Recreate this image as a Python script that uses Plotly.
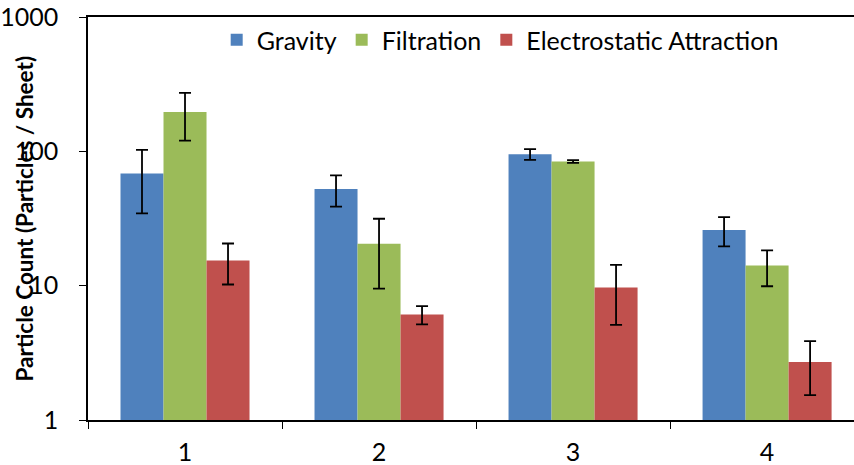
import plotly.graph_objects as go

# Sample groups on the x axis
groups = ["1", "2", "3", "4"]

# Mean particle counts per collection method
gravity = [68.5, 52.5, 95.0, 26.0]
filtration = [196.0, 20.5, 84.0, 14.1]
electrostatic = [15.4, 6.1, 9.7, 2.7]

# Symmetric error (± particles / sheet)
gravity_err = [34.0, 13.8, 8.7, 6.4]
filtration_err = [76.0, 11.0, 2.0, 4.2]
electrostatic_err = [5.2, 0.95, 4.6, 1.17]

series = [
    ("Gravity", gravity, gravity_err, "#4F81BD"),
    ("Filtration", filtration, filtration_err, "#9BBB59"),
    ("Electrostatic Attraction", electrostatic, electrostatic_err, "#C0504D"),
]

FONT = "Lato"
SIZE = 25

fig = go.Figure()
for name, vals, errs, color in series:
    fig.add_trace(go.Bar(
        name=name,
        x=groups,
        y=vals,
        marker=dict(color=color, line=dict(width=0)),
        error_y=dict(type="data", array=errs, visible=True,
                     color="black", thickness=1.8, width=6),
    ))

fig.update_layout(
    width=854,
    height=465,
    margin=dict(l=88, r=0, t=17, b=45),
    paper_bgcolor="white",
    plot_bgcolor="white",
    barmode="group",
    bargap=0.335,
    bargroupgap=0,
    font=dict(family=FONT, size=SIZE, color="black"),
    showlegend=True,
    legend=dict(
        orientation="h",
        x=0.168, xanchor="left",
        y=1.0, yanchor="top",
        bgcolor="rgba(0,0,0,0)",
        font=dict(family=FONT, size=SIZE, color="black"),
        itemwidth=30,
        tracegroupgap=0,
    ),
    xaxis=dict(
        type="category",
        range=[-0.5, 3.448],
        automargin=False,
        showline=True, linecolor="black", linewidth=1.5, mirror=True,
        ticks="outside", ticklen=7, tickwidth=1.3, tickcolor="black",
        tickson="boundaries",
        ticklabelstandoff=9,
        showgrid=False, zeroline=False,
        tickfont=dict(family=FONT, size=SIZE, color="black"),
    ),
    yaxis=dict(
        type="log",
        range=[0, 3],
        automargin=False,
        tickvals=[1, 10, 100, 1000],
        ticktext=["1", "10", "100", "1000"],
        showline=True, linecolor="black", linewidth=1.5,
        ticks="outside", ticklen=7, tickwidth=1.3, tickcolor="black",
        ticklabelstandoff=16,
        showgrid=False, zeroline=False,
        tickfont=dict(family=FONT, size=SIZE, color="black"),
    ),
)

fig.add_annotation(
    text="<b>Particle Count (Particles / Sheet)</b>",
    xref="paper", yref="paper",
    x=(24 - 88) / 766, y=0.5,
    xanchor="center", yanchor="middle",
    textangle=-90, showarrow=False,
    font=dict(family=FONT, size=22.5, color="black"),
)

fig.write_html("out.html")
